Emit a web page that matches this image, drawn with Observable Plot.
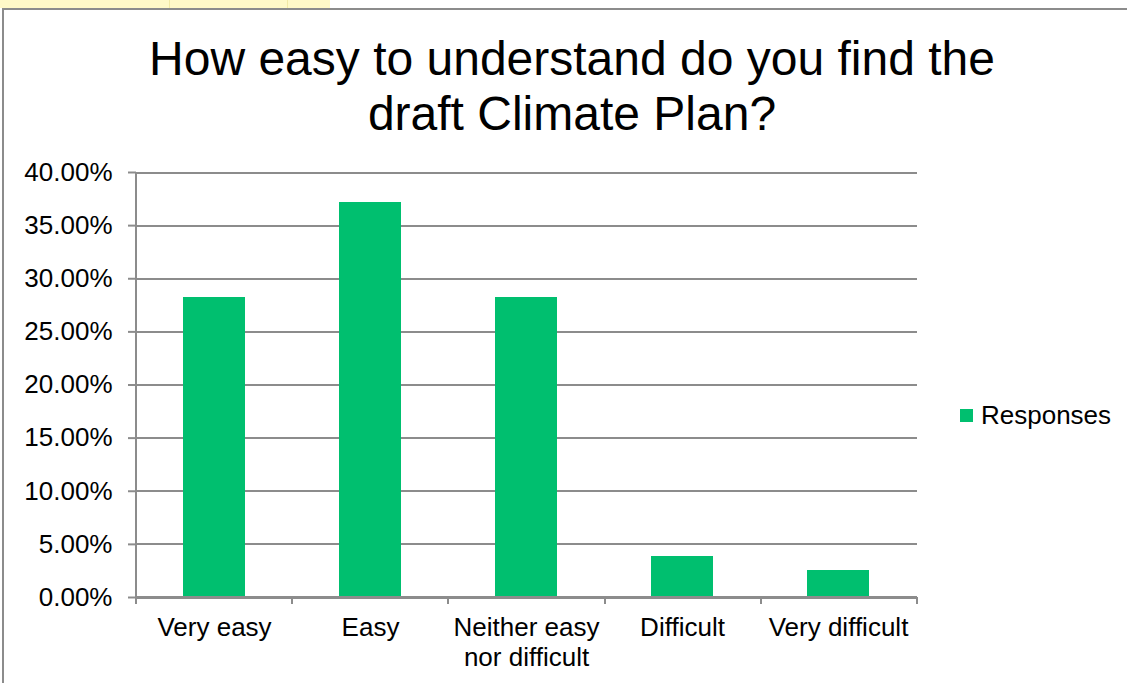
<!DOCTYPE html>
<html><head><meta charset="utf-8">
<script src="https://cdn.jsdelivr.net/npm/d3@7"></script>
<script src="https://cdn.jsdelivr.net/npm/@observablehq/plot@0.6"></script>
<style>
body{margin:0;background:#fff;font-family:"Liberation Sans",Arial,sans-serif;}
#wrap{position:relative;width:1127px;height:683px;overflow:hidden;background:#fff;}
.cell{position:absolute;top:0;height:8px;background:#FFF9C8;}
.sep{position:absolute;top:0;height:8px;width:1px;background:#F2E9A6;}
#frame{position:absolute;left:2px;top:8px;width:1200px;height:700px;border-top:2px solid #8c8c8c;border-left:2px solid #8c8c8c;box-sizing:border-box;}
#title{position:absolute;left:72px;width:1000px;top:31px;text-align:center;font-size:48px;line-height:55px;color:#000;}
#chart{position:absolute;left:0;top:0;}
#legend{position:absolute;left:960px;top:400px;height:30px;display:flex;align-items:center;font-size:26px;color:#000;white-space:nowrap;}
#legend .sw{display:inline-block;width:13px;height:13px;background:#00BF6F;margin-right:8px;}
</style></head><body>
<div id="wrap">
  <div class="cell" style="left:0;width:330px"></div>
  <div class="sep" style="left:169px"></div>
  <div class="sep" style="left:287px"></div>
  <div id="frame"></div>
  <div id="title">How easy to understand do you find the<br>draft Climate Plan?</div>
  <div id="chart"></div>
  <div id="legend"><span class="sw"></span><span>Responses</span></div>
</div>
<script>
const categories = ["Very easy", "Easy", "Neither easy nor difficult", "Difficult", "Very difficult"];
const categoryLabels = ["Very easy", "Easy", "Neither easy\nnor difficult", "Difficult", "Very difficult"];
const responses = [0.2821, 0.3718, 0.2821, 0.0385, 0.0256];
const yTicks = [0, 0.05, 0.10, 0.15, 0.20, 0.25, 0.30, 0.35, 0.40];
const yTickLabels = ["0.00%", "5.00%", "10.00%", "15.00%", "20.00%", "25.00%", "30.00%", "35.00%", "40.00%"];
const seriesName = "Responses";

const data = categories.map((c, i) => ({category: c, value: responses[i]}));
const gridColor = "#8c8c8c";
const barColor = "#00BF6F";

function categoryAxis(index, scales, values, dimensions) {
  const {width, marginLeft, marginRight} = dimensions;
  const n = categories.length;
  const step = (width - marginLeft - marginRight) / n;
  const y0 = scales.y(0), yTop = scales.y(yTicks[yTicks.length - 1]);
  const g = d3.create("svg:g").attr("stroke", gridColor).attr("stroke-width", 2).attr("shape-rendering", "crispEdges");
  g.append("line").attr("x1", marginLeft).attr("x2", marginLeft).attr("y1", yTop).attr("y2", y0);
  g.append("line").attr("x1", marginLeft).attr("x2", width - marginRight).attr("y1", y0).attr("y2", y0);
  for (let k = 0; k <= n; k++) {
    const bx = marginLeft + k * step;
    g.append("line").attr("x1", bx).attr("x2", bx).attr("y1", y0).attr("y2", y0 + 7);
  }
  return g.node();
}

const chart = Plot.plot({
  width: 1127,
  height: 683,
  marginLeft: 136,
  marginRight: 210,
  marginTop: 172,
  marginBottom: 86,
  style: {fontFamily: "'Liberation Sans', Arial, sans-serif", fontSize: "26px", color: "#000", background: "transparent", overflow: "visible"},
  x: {domain: categories, paddingInner: 0.6, paddingOuter: 0.3, label: null},
  y: {domain: [0, 0.4], label: null},
  marks: [
    Plot.ruleY(yTicks, {stroke: gridColor, strokeWidth: 2, shapeRendering: "crispEdges"}),
    Plot.barY(data, {x: "category", y: "value", fill: barColor, shapeRendering: "crispEdges", title: d => `${seriesName}: ${d.category}`}),
    categoryAxis,
    Plot.axisY(yTicks, {tickSize: 8, tickPadding: 16, stroke: gridColor, strokeWidth: 2, fill: "#000", fontSize: 26, tickFormat: d => yTickLabels[yTicks.indexOf(d)], label: null}),
    Plot.axisX({tickSize: 0, tickPadding: 18, fill: "#000", fontSize: 26, lineHeight: 1.13, tickFormat: d => categoryLabels[categories.indexOf(d)], label: null})
  ]
});
document.getElementById("chart").appendChild(chart);
</script>
</body></html>
